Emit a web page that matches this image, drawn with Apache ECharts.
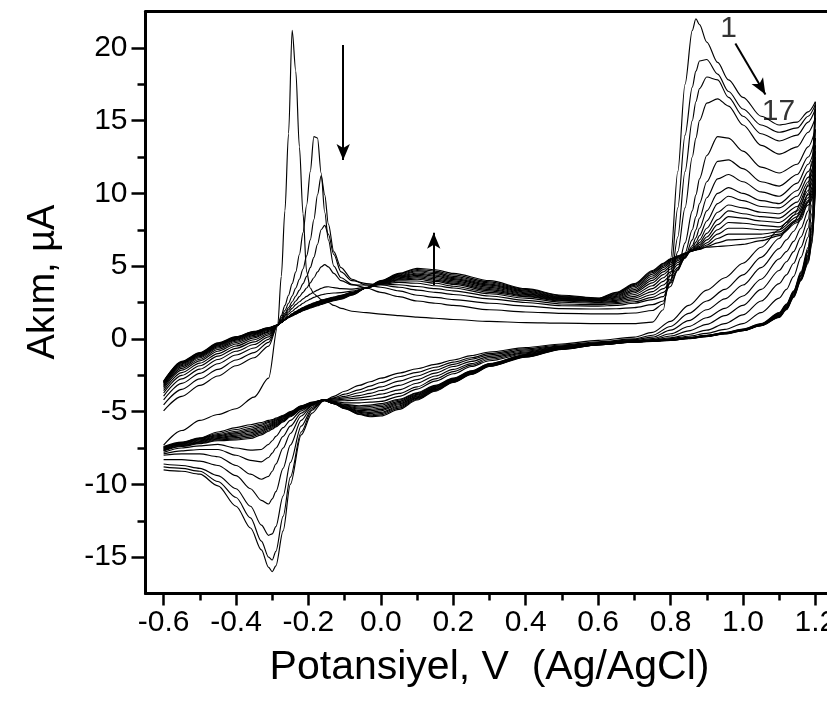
<!DOCTYPE html>
<html>
<head>
<meta charset="utf-8">
<script src="https://cdn.jsdelivr.net/npm/echarts@6/dist/echarts.min.js"></script>
<style>html,body{margin:0;padding:0;background:#fff}#chart{width:827px;height:715px}</style>
</head>
<body>
<div id="chart"></div>
<script>
// ---------- data ----------
const cycleNumbers = [1,2,3,4,5,6,7,8,9,10,11,12,13,14,15,16,17];

const xMajorTicks = [-0.6,-0.4,-0.2,0,0.2,0.4,0.6,0.8,1.0,1.2];
const xMinorTicks = [-0.5,-0.3,-0.1,0.1,0.3,0.5,0.7,0.9,1.1];
const yMajorTicks = [-15,-10,-5,0,5,10,15,20];
const yMinorTicks = [-12.5,-7.5,-2.5,2.5,7.5,12.5,17.5];

// forward (anodic) scan, potential in V
const forwardPotential = [-0.60,-0.55,-0.50,-0.45,-0.40,-0.35,-0.31,-0.285,-0.275,-0.265,-0.255,-0.245,-0.235,-0.225,-0.215,-0.205,-0.195,-0.185,-0.175,-0.165,-0.155,-0.145,-0.13,-0.11,-0.08,-0.04,0.00,0.05,0.10,0.15,0.20,0.30,0.40,0.50,0.60,0.65,0.70,0.75,0.78,0.80,0.82,0.84,0.86,0.87,0.88,0.90,0.93,0.96,1.00,1.05,1.10,1.15,1.18,1.20];
// one row per potential, columns = cycles 1..17, current in µA
const forwardCurrent = [
[-7.3,-4.95,-4.54,-4.19,-3.93,-3.72,-3.56,-3.41,-3.31,-3.22,-3.15,-3.08,-3.03,-2.99,-2.96,-2.93,-2.9],
[-6.3,-3.95,-3.47,-3.06,-2.75,-2.51,-2.32,-2.15,-2.03,-1.92,-1.84,-1.77,-1.71,-1.66,-1.62,-1.58,-1.55],
[-5.6,-3.2,-2.75,-2.37,-2.08,-1.85,-1.67,-1.51,-1.4,-1.3,-1.22,-1.15,-1.1,-1.05,-1.01,-0.98,-0.95],
[-5.2,-2.55,-2.1,-1.71,-1.42,-1.19,-1.01,-0.85,-0.73,-0.63,-0.55,-0.48,-0.43,-0.38,-0.34,-0.31,-0.28],
[-4.8,-1.85,-1.45,-1.11,-0.85,-0.65,-0.49,-0.35,-0.25,-0.16,-0.09,-0.03,0.02,0.06,0.09,0.12,0.15],
[-4.0,-1.3,-0.94,-0.63,-0.39,-0.21,-0.06,0.07,0.16,0.24,0.3,0.36,0.4,0.44,0.47,0.5,0.52],
[-2.7,-0.5,-0.24,-0.03,0.14,0.27,0.37,0.46,0.52,0.58,0.63,0.66,0.7,0.72,0.74,0.76,0.78],
[0.9,0.95,0.95,0.95,0.95,0.95,0.95,0.95,0.95,0.95,0.95,0.95,0.95,0.95,0.95,0.95,0.95],
[4.3,1.6,1.45,1.35,1.3,1.25,1.2,1.15,1.15,1.14,1.14,1.14,1.13,1.13,1.13,1.12,1.12],
[8.8,2.3,1.95,1.75,1.65,1.55,1.45,1.35,1.34,1.34,1.33,1.33,1.32,1.32,1.31,1.31,1.3],
[14.1,3.0,2.45,2.15,2.0,1.85,1.7,1.55,1.54,1.53,1.52,1.51,1.5,1.49,1.48,1.47,1.45],
[21.2,3.8,2.95,2.55,2.3,2.1,1.9,1.72,1.7,1.69,1.67,1.66,1.64,1.63,1.61,1.6,1.58],
[18.4,4.6,3.5,2.95,2.6,2.35,2.1,1.88,1.86,1.84,1.82,1.8,1.78,1.76,1.74,1.72,1.7],
[13.2,5.8,4.1,3.35,2.9,2.55,2.28,2.02,2.0,1.97,1.95,1.93,1.91,1.88,1.86,1.84,1.82],
[8.6,7.3,4.8,3.8,3.2,2.75,2.45,2.15,2.13,2.1,2.07,2.05,2.02,1.99,1.97,1.95,1.93],
[4.6,9.2,5.7,4.3,3.5,2.92,2.6,2.27,2.24,2.21,2.18,2.15,2.12,2.1,2.07,2.05,2.03],
[3.5,11.5,6.8,4.9,3.85,3.08,2.73,2.38,2.35,2.32,2.29,2.26,2.23,2.2,2.17,2.14,2.12],
[3.1,13.9,8.2,5.6,4.2,3.22,2.85,2.48,2.45,2.42,2.39,2.36,2.33,2.3,2.27,2.23,2.2],
[2.9,13.8,9.9,6.5,4.6,3.35,2.95,2.57,2.54,2.51,2.48,2.45,2.42,2.38,2.35,2.31,2.28],
[2.7,11.4,11.2,7.5,4.95,3.47,3.02,2.65,2.62,2.59,2.56,2.53,2.5,2.46,2.43,2.4,2.36],
[2.6,8.7,9.9,7.8,5.1,3.56,3.08,2.72,2.69,2.67,2.64,2.61,2.58,2.55,2.51,2.48,2.44],
[2.5,6.8,7.9,7.2,4.95,3.58,3.12,2.79,2.76,2.74,2.71,2.69,2.66,2.63,2.6,2.56,2.52],
[2.3,5.0,6.0,5.8,4.5,3.52,3.15,2.88,2.85,2.83,2.81,2.78,2.75,2.72,2.69,2.66,2.62],
[2.1,4.2,4.9,4.6,4.0,3.45,3.18,3.0,2.97,2.95,2.92,2.89,2.86,2.83,2.8,2.76,2.72],
[1.9,3.75,4.1,4.0,3.7,3.42,3.28,3.2,3.18,3.16,3.14,3.12,3.1,3.08,3.05,3.03,3.0],
[1.8,3.5,3.7,3.8,3.7,3.55,3.5,3.5,3.5,3.5,3.5,3.5,3.5,3.5,3.5,3.5,3.5],
[1.7,3.2,3.55,3.7,3.78,3.75,3.78,3.8,3.82,3.84,3.87,3.89,3.91,3.93,3.96,3.98,4.0],
[1.6,2.9,3.3,3.55,3.72,3.88,3.98,4.05,4.1,4.15,4.2,4.25,4.3,4.35,4.4,4.45,4.5],
[1.5,2.6,3.0,3.35,3.6,3.82,3.98,4.1,4.19,4.28,4.36,4.45,4.53,4.61,4.69,4.77,4.85],
[1.42,2.45,2.85,3.2,3.45,3.65,3.82,3.95,4.04,4.13,4.22,4.31,4.39,4.48,4.57,4.66,4.75],
[1.33,2.3,2.7,3.05,3.3,3.5,3.62,3.75,3.83,3.91,3.99,4.07,4.14,4.22,4.3,4.4,4.5],
[1.2,2.0,2.45,2.75,2.95,3.1,3.2,3.3,3.38,3.46,3.54,3.62,3.69,3.76,3.84,3.92,4.0],
[1.12,1.85,2.25,2.5,2.65,2.8,2.9,2.95,3.0,3.06,3.11,3.17,3.22,3.28,3.34,3.4,3.45],
[1.08,1.75,2.08,2.28,2.4,2.52,2.6,2.65,2.68,2.72,2.75,2.78,2.82,2.86,2.9,2.95,3.0],
[1.05,1.72,2.05,2.25,2.35,2.45,2.5,2.55,2.6,2.62,2.65,2.68,2.7,2.72,2.75,2.78,2.8],
[1.05,1.72,2.07,2.3,2.42,2.5,2.58,2.65,2.72,2.8,2.86,2.92,2.98,3.04,3.1,3.15,3.2],
[1.05,1.78,2.15,2.45,2.55,2.68,2.8,2.92,3.05,3.17,3.28,3.39,3.5,3.6,3.68,3.75,3.8],
[1.15,1.95,2.35,2.7,2.85,3.05,3.25,3.45,3.65,3.85,4.02,4.18,4.32,4.45,4.56,4.64,4.7],
[2.0,2.4,2.6,2.9,3.2,3.45,3.7,3.95,4.2,4.42,4.6,4.76,4.9,5.0,5.08,5.15,5.2],
[5.5,4.5,4.0,3.9,3.6,3.85,4.1,4.35,4.6,4.8,4.97,5.1,5.22,5.32,5.4,5.46,5.5],
[11.5,9.0,7.0,6.0,4.8,4.7,4.75,4.9,5.1,5.25,5.38,5.47,5.55,5.6,5.64,5.68,5.7],
[17.5,14.0,11.5,9.0,6.6,5.9,5.6,5.55,5.6,5.65,5.72,5.78,5.82,5.85,5.87,5.88,5.9],
[21.2,17.3,15.0,12.5,8.8,7.5,6.8,6.4,6.25,6.15,6.1,6.08,6.06,6.05,6.04,6.04,6.05],
[22.0,18.4,16.3,13.8,9.9,8.4,7.5,6.95,6.65,6.45,6.35,6.27,6.2,6.15,6.12,6.1,6.12],
[21.6,19.1,17.2,15.0,11.0,9.3,8.3,7.6,7.1,6.8,6.62,6.48,6.36,6.27,6.2,6.15,6.2],
[20.4,19.2,18.0,16.2,12.6,10.8,9.7,8.8,8.1,7.6,7.25,7.0,6.8,6.6,6.45,6.35,6.3],
[19.0,18.2,17.8,16.5,13.9,12.2,11.0,10.0,9.3,8.7,8.2,7.85,7.5,7.2,6.9,6.6,6.35],
[17.8,17.0,16.6,16.0,13.8,12.3,11.3,10.4,9.8,9.2,8.8,8.4,8.0,7.6,7.2,6.8,6.4],
[16.6,15.8,15.3,14.7,12.9,11.7,10.8,10.0,9.5,9.0,8.6,8.3,7.95,7.6,7.2,6.85,6.5],
[15.3,14.7,14.1,13.3,11.8,10.8,10.1,9.5,9.1,8.7,8.4,8.1,7.8,7.5,7.2,6.95,6.75],
[14.7,14.2,13.6,12.7,11.4,10.5,9.8,9.3,9.0,8.6,8.3,8.0,7.7,7.5,7.35,7.2,7.1],
[14.9,14.5,14.0,13.2,12.0,11.3,10.7,10.2,9.8,9.4,9.1,8.8,8.6,8.4,8.2,8.1,8.0],
[15.6,15.3,14.9,14.2,13.2,12.5,12.0,11.5,11.1,10.8,10.5,10.2,9.9,9.7,9.5,9.4,9.2],
[16.3,16.1,15.8,15.2,14.4,13.8,13.3,12.9,12.5,12.2,11.9,11.6,11.3,11.0,10.8,10.5,10.3]
];

// reverse (cathodic) scan
const reversePotential = [1.20,1.19,1.18,1.16,1.14,1.12,1.10,1.05,1.00,0.95,0.90,0.85,0.80,0.75,0.70,0.60,0.50,0.40,0.30,0.25,0.20,0.15,0.10,0.05,0.00,-0.03,-0.06,-0.10,-0.13,-0.16,-0.19,-0.22,-0.25,-0.27,-0.29,-0.30,-0.31,-0.33,-0.36,-0.40,-0.45,-0.50,-0.55,-0.60];
const reverseCurrent = [
[16.3,16.1,15.8,15.2,14.4,13.8,13.3,12.9,12.5,12.2,11.9,11.6,11.3,11.0,10.8,10.5,10.3],
[12.2,11.6,11.0,10.4,9.8,9.2,8.6,8.0,7.8,7.6,7.4,7.2,7.0,6.9,6.8,6.6,6.5],
[10.6,10.0,9.4,8.8,8.2,7.6,7.0,6.3,6.1,6.0,5.8,5.7,5.6,5.5,5.4,5.3,5.2],
[9.3,8.8,8.2,7.6,7.0,6.3,5.6,4.6,4.5,4.4,4.35,4.3,4.2,4.15,4.1,4.05,4.0],
[8.5,8.0,7.4,6.7,6.0,5.2,4.3,3.3,3.25,3.2,3.15,3.1,3.05,3.0,2.95,2.9,2.85],
[8.0,7.5,6.8,6.0,5.3,4.4,3.4,2.4,2.35,2.3,2.25,2.2,2.15,2.1,2.07,2.04,2.0],
[7.5,6.9,6.2,5.5,4.7,3.8,2.8,1.8,1.75,1.7,1.66,1.62,1.58,1.55,1.52,1.5,1.48],
[6.3,5.6,4.9,4.1,3.4,2.6,1.8,1.05,1.02,1.0,0.98,0.96,0.94,0.93,0.92,0.91,0.9],
[5.2,4.4,3.7,2.95,2.3,1.65,1.05,0.68,0.66,0.64,0.62,0.61,0.6,0.59,0.58,0.57,0.56],
[4.2,3.4,2.75,2.1,1.6,1.05,0.65,0.44,0.42,0.41,0.4,0.39,0.38,0.37,0.36,0.35,0.34],
[3.35,2.6,2.0,1.45,1.0,0.6,0.38,0.24,0.23,0.22,0.21,0.2,0.19,0.18,0.17,0.16,0.15],
[2.3,1.75,1.25,0.85,0.55,0.3,0.18,0.09,0.08,0.07,0.06,0.05,0.05,0.04,0.03,0.03,0.02],
[1.2,0.85,0.6,0.35,0.2,0.08,0.02,-0.04,-0.05,-0.05,-0.06,-0.07,-0.07,-0.08,-0.08,-0.09,-0.1],
[0.45,0.25,0.12,0.02,-0.04,-0.08,-0.1,-0.12,-0.13,-0.13,-0.14,-0.14,-0.15,-0.15,-0.16,-0.16,-0.17],
[0.12,0.0,-0.05,-0.1,-0.13,-0.15,-0.16,-0.18,-0.18,-0.19,-0.19,-0.2,-0.2,-0.21,-0.21,-0.22,-0.22],
[-0.1,-0.2,-0.25,-0.28,-0.3,-0.32,-0.34,-0.36,-0.37,-0.37,-0.38,-0.39,-0.39,-0.4,-0.41,-0.41,-0.42],
[-0.35,-0.42,-0.48,-0.52,-0.55,-0.58,-0.6,-0.62,-0.63,-0.64,-0.65,-0.66,-0.67,-0.68,-0.69,-0.7,-0.72],
[-0.6,-0.68,-0.76,-0.83,-0.9,-0.96,-1.02,-1.08,-1.1,-1.12,-1.14,-1.16,-1.18,-1.2,-1.22,-1.23,-1.25],
[-0.9,-1.0,-1.1,-1.2,-1.3,-1.4,-1.5,-1.7,-1.72,-1.74,-1.76,-1.78,-1.8,-1.83,-1.85,-1.88,-1.9],
[-1.15,-1.3,-1.4,-1.55,-1.7,-1.8,-1.9,-2.2,-2.22,-2.25,-2.28,-2.31,-2.34,-2.37,-2.4,-2.43,-2.45],
[-1.45,-1.6,-1.75,-1.9,-2.1,-2.25,-2.4,-2.7,-2.73,-2.77,-2.8,-2.84,-2.87,-2.91,-2.94,-2.97,-3.0],
[-1.75,-1.95,-2.15,-2.35,-2.55,-2.75,-2.9,-3.2,-3.24,-3.28,-3.33,-3.38,-3.42,-3.47,-3.51,-3.56,-3.6],
[-2.05,-2.3,-2.55,-2.8,-3.05,-3.3,-3.45,-3.7,-3.75,-3.81,-3.87,-3.93,-3.98,-4.04,-4.09,-4.15,-4.2],
[-2.35,-2.6,-2.9,-3.2,-3.5,-3.75,-3.95,-4.15,-4.22,-4.3,-4.38,-4.46,-4.53,-4.61,-4.68,-4.76,-4.85],
[-2.7,-3.0,-3.3,-3.55,-3.8,-4.05,-4.3,-4.45,-4.55,-4.65,-4.75,-4.85,-4.95,-5.05,-5.14,-5.22,-5.3],
[-2.95,-3.25,-3.5,-3.75,-3.95,-4.15,-4.35,-4.55,-4.65,-4.75,-4.85,-4.95,-5.05,-5.13,-5.22,-5.29,-5.35],
[-3.2,-3.5,-3.7,-3.9,-4.05,-4.2,-4.4,-4.6,-4.68,-4.76,-4.84,-4.92,-4.98,-5.05,-5.11,-5.16,-5.2],
[-3.6,-3.8,-3.95,-4.05,-4.15,-4.25,-4.4,-4.5,-4.55,-4.6,-4.65,-4.68,-4.71,-4.74,-4.76,-4.78,-4.8],
[-3.95,-4.05,-4.1,-4.15,-4.2,-4.25,-4.3,-4.35,-4.37,-4.39,-4.41,-4.42,-4.43,-4.44,-4.45,-4.45,-4.45],
[-4.3,-4.25,-4.25,-4.2,-4.2,-4.2,-4.2,-4.2,-4.2,-4.2,-4.2,-4.2,-4.2,-4.2,-4.2,-4.2,-4.2],
[-5.1,-4.9,-4.8,-4.7,-4.6,-4.55,-4.5,-4.5,-4.48,-4.47,-4.45,-4.43,-4.42,-4.4,-4.38,-4.37,-4.35],
[-6.6,-6.4,-6.0,-5.6,-5.3,-5.1,-4.95,-4.85,-4.82,-4.79,-4.76,-4.73,-4.7,-4.67,-4.65,-4.62,-4.6],
[-10.0,-9.5,-8.5,-7.3,-6.5,-6.0,-5.6,-5.35,-5.3,-5.26,-5.22,-5.18,-5.14,-5.1,-5.07,-5.03,-5.0],
[-13.2,-12.2,-10.8,-8.9,-7.5,-6.7,-6.1,-5.7,-5.64,-5.58,-5.52,-5.47,-5.42,-5.37,-5.33,-5.29,-5.25],
[-15.6,-14.6,-12.9,-10.5,-8.6,-7.5,-6.7,-6.05,-5.98,-5.91,-5.84,-5.77,-5.7,-5.63,-5.57,-5.51,-5.45],
[-16.0,-15.2,-13.4,-11.0,-9.1,-7.85,-7.0,-6.2,-6.12,-6.04,-5.96,-5.89,-5.82,-5.75,-5.68,-5.61,-5.55],
[-15.7,-15.0,-13.5,-11.35,-9.45,-8.15,-7.25,-6.35,-6.26,-6.17,-6.09,-6.01,-5.93,-5.85,-5.76,-5.68,-5.6],
[-14.5,-13.9,-12.8,-11.1,-9.65,-8.45,-7.6,-6.6,-6.5,-6.41,-6.32,-6.23,-6.14,-6.05,-5.95,-5.85,-5.75],
[-13.0,-12.3,-11.5,-10.3,-9.3,-8.35,-7.65,-6.85,-6.75,-6.65,-6.55,-6.45,-6.35,-6.25,-6.14,-6.02,-5.9],
[-11.5,-10.9,-10.3,-9.4,-8.7,-8.0,-7.5,-6.95,-6.87,-6.79,-6.7,-6.62,-6.53,-6.44,-6.35,-6.23,-6.1],
[-10.1,-9.8,-9.4,-8.7,-8.1,-7.6,-7.25,-7.0,-6.95,-6.9,-6.84,-6.78,-6.72,-6.65,-6.58,-6.5,-6.4],
[-9.3,-9.1,-8.9,-8.4,-7.9,-7.6,-7.35,-7.2,-7.15,-7.1,-7.05,-7.0,-6.95,-6.9,-6.86,-6.83,-6.8],
[-9.1,-8.9,-8.7,-8.3,-7.9,-7.7,-7.5,-7.4,-7.36,-7.33,-7.29,-7.25,-7.21,-7.18,-7.15,-7.12,-7.1],
[-9.0,-8.8,-8.6,-8.3,-8.0,-7.9,-7.8,-7.7,-7.67,-7.64,-7.6,-7.57,-7.53,-7.5,-7.47,-7.44,-7.4]
];

// annotations
const arrowSegments = [
  [[-0.104, 20.2], [-0.104, 12.3]],
  [[0.146, 3.7], [0.146, 7.3]],
  [[0.979, 20.3], [1.062, 16.8]]
];
const numberLabels = [
  {text: '1',  at: [0.960, 21.3]},
  {text: '17', at: [1.098, 15.6]}
];

const xTitle = 'Potansiyel, V  (Ag/AgCl)';
const yTitle = 'Akım, µA';

// ---------- chart ----------
const FONT = "'Liberation Sans', Arial, Helvetica, sans-serif";
const chart = echarts.init(document.getElementById('chart'), null, {renderer: 'canvas'});

function curve(name, data) {
  return {
    name: name, type: 'line', data: data,
    xAxisIndex: 0, yAxisIndex: 0,
    showSymbol: false, symbol: 'none',
    smooth: 0.3, smoothMonotone: 'x',
    lineStyle: {color: '#000', width: 1.15},
    silent: true, animation: false, z: 2
  };
}

const series = [];
cycleNumbers.forEach(function (n, k) {
  series.push(curve('ileri ' + n, forwardPotential.map(function (E, i) { return [E, forwardCurrent[i][k]]; })));
  series.push(curve('geri ' + n, reversePotential.map(function (E, i) { return [E, reverseCurrent[i][k]]; })));
});

series.push({
  type: 'scatter', xAxisIndex: 0, yAxisIndex: 0, silent: true, animation: false, z: 5,
  symbolSize: 1, itemStyle: {color: 'rgba(0,0,0,0)'},
  data: numberLabels.map(function (l) { return {value: l.at, name: l.text}; }),
  label: {show: true, position: 'inside', formatter: '{b}', color: '#000', fontSize: 30, fontFamily: FONT},
  markLine: {
    silent: true, animation: false,
    symbol: ['none', 'arrow'], symbolSize: [10, 16],
    label: {show: false},
    lineStyle: {color: '#000', width: 2, type: 'solid'},
    emphasis: {disabled: true},
    data: arrowSegments.map(function (s) { return [{coord: s[0]}, {coord: s[1]}]; })
  }
});

const axisLineStyle = {color: '#000', width: 3};
const tickStyle = {color: '#000', width: 2.5};

const option = {
  animation: false,
  backgroundColor: '#ffffff',
  grid: {left: 145.5, top: 11.5, width: 688, height: 582, containLabel: false, outerBoundsMode: 'none'},
  xAxis: [
    {
      type: 'value', min: -0.65, max: 1.25, position: 'bottom',
      axisLine: {show: true, onZero: false, lineStyle: axisLineStyle},
      axisTick: {show: true, inside: false, length: 12, lineStyle: tickStyle, customValues: xMajorTicks},
      axisLabel: {show: true, customValues: xMajorTicks, margin: 14, color: '#000', fontSize: 30, fontFamily: FONT,
                  formatter: function (v) { return (Math.abs(v) < 1e-9 ? 0 : v).toFixed(1); }},
      splitLine: {show: false},
      name: xTitle, nameLocation: 'middle', nameGap: 54,
      nameTextStyle: {color: '#000', fontSize: 41, fontFamily: FONT}
    },
    {
      type: 'value', min: -0.65, max: 1.25, position: 'bottom',
      axisLine: {show: false, onZero: false},
      axisTick: {show: true, inside: false, length: 7, lineStyle: tickStyle, customValues: xMinorTicks},
      axisLabel: {show: false}, splitLine: {show: false}
    },
    {
      type: 'value', min: -0.65, max: 1.25, position: 'top',
      axisLine: {show: true, onZero: false, lineStyle: axisLineStyle},
      axisTick: {show: false}, axisLabel: {show: false}, splitLine: {show: false}
    }
  ],
  yAxis: [
    {
      type: 'value', min: -17.5, max: 22.5, position: 'left',
      axisLine: {show: true, onZero: false, lineStyle: axisLineStyle},
      axisTick: {show: true, inside: false, length: 14, lineStyle: tickStyle, customValues: yMajorTicks},
      axisLabel: {show: true, customValues: yMajorTicks, margin: 18, color: '#000', fontSize: 30, fontFamily: FONT,
                  formatter: function (v) { return String(v); }},
      splitLine: {show: false}
    },
    {
      type: 'value', min: -17.5, max: 22.5, position: 'left',
      axisLine: {show: false, onZero: false},
      axisTick: {show: true, inside: false, length: 8, lineStyle: tickStyle, customValues: yMinorTicks},
      axisLabel: {show: false}, splitLine: {show: false}
    },
    {
      type: 'value', min: -17.5, max: 22.5, position: 'right',
      axisLine: {show: true, onZero: false, lineStyle: axisLineStyle},
      axisTick: {show: false}, axisLabel: {show: false}, splitLine: {show: false}
    }
  ],
  graphic: [{
    type: 'text', x: 44, y: 282, rotation: Math.PI / 2, silent: true,
    style: {text: yTitle, fill: '#000', fontSize: 38, fontFamily: FONT,
            align: 'center', verticalAlign: 'middle', textAlign: 'center', textVerticalAlign: 'middle'}
  }],
  series: series
};

chart.setOption(option);
</script>
</body>
</html>
